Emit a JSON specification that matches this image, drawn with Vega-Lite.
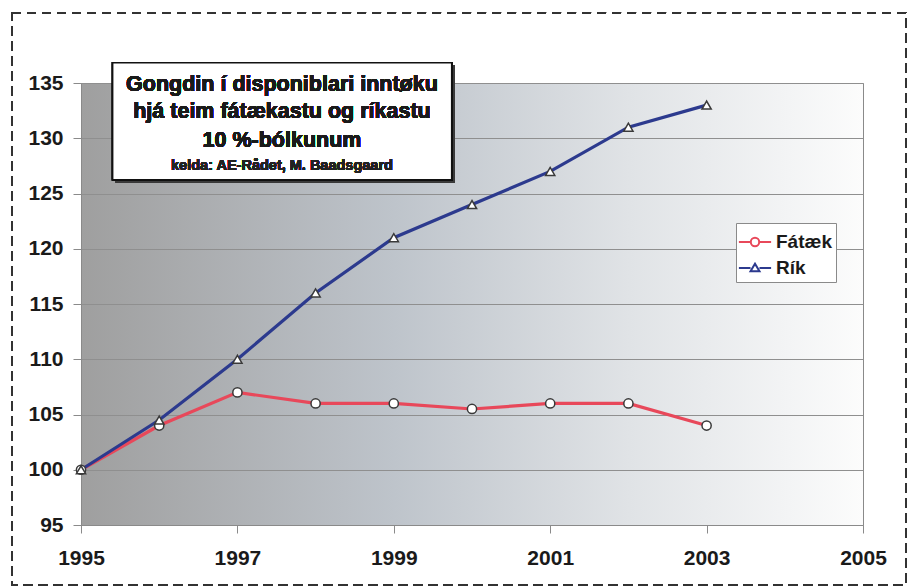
{
  "$schema": "https://vega.github.io/schema/vega-lite/v6.json",
  "width": 782,
  "height": 442,
  "autosize": "none",
  "padding": {"left": 81, "top": 83, "right": 49, "bottom": 63},
  "background": "white",
  "config": {
    "font": "Liberation Sans",
    "view": {
      "stroke": "#8a8a8a",
      "strokeWidth": 1,
      "fill": {
        "gradient": "linear",
        "x1": 0, "y1": 0, "x2": 1, "y2": 0,
        "stops": [
          {"offset": 0, "color": "#9f9f9f"},
          {"offset": 0.4, "color": "#bec4cb"},
          {"offset": 0.7, "color": "#e0e3e6"},
          {"offset": 1, "color": "#fcfcfc"}
        ]
      }
    },
    "axis": {
      "labelFont": "Liberation Sans",
      "labelFontWeight": "bold",
      "labelFontSize": 21,
      "labelColor": "#1a1a1a",
      "domainColor": "#8a8a8a",
      "tickColor": "#8a8a8a",
      "tickSize": 8,
      "title": null
    }
  },
  "data": {
    "values": [
      {"year": 1995, "value": 100, "series": "Fátæk"},
      {"year": 1996, "value": 104, "series": "Fátæk"},
      {"year": 1997, "value": 107, "series": "Fátæk"},
      {"year": 1998, "value": 106, "series": "Fátæk"},
      {"year": 1999, "value": 106, "series": "Fátæk"},
      {"year": 2000, "value": 105.5, "series": "Fátæk"},
      {"year": 2001, "value": 106, "series": "Fátæk"},
      {"year": 2002, "value": 106, "series": "Fátæk"},
      {"year": 2003, "value": 104, "series": "Fátæk"},
      {"year": 1995, "value": 100, "series": "Rík"},
      {"year": 1996, "value": 104.5, "series": "Rík"},
      {"year": 1997, "value": 110, "series": "Rík"},
      {"year": 1998, "value": 116, "series": "Rík"},
      {"year": 1999, "value": 121, "series": "Rík"},
      {"year": 2000, "value": 124, "series": "Rík"},
      {"year": 2001, "value": 127, "series": "Rík"},
      {"year": 2002, "value": 131, "series": "Rík"},
      {"year": 2003, "value": 133, "series": "Rík"}
    ]
  },
  "encoding": {
    "x": {
      "field": "year", "type": "quantitative",
      "scale": {"domain": [1995, 2005], "nice": false, "zero": false},
      "axis": {"values": [1995, 1997, 1999, 2001, 2003, 2005], "format": "d", "grid": false, "labelPadding": 14, "labelFlush": false}
    },
    "y": {
      "field": "value", "type": "quantitative",
      "scale": {"domain": [95, 135], "nice": false, "zero": false},
      "axis": {"values": [95, 100, 105, 110, 115, 120, 125, 130, 135], "grid": true, "gridColor": "#8f8f8f", "gridWidth": 1, "labelPadding": 10}
    }
  },
  "layer": [
    {
      "mark": {"type": "line", "strokeWidth": 3.2},
      "encoding": {
        "color": {
          "field": "series", "type": "nominal",
          "scale": {"domain": ["Fátæk", "Rík"], "range": ["#e8485a", "#2c3a8e"]},
          "legend": null
        }
      }
    },
    {
      "mark": {"type": "point", "filled": false, "fill": "white", "stroke": "#3a3a3a", "strokeWidth": 1.5, "size": 85, "opacity": 1},
      "encoding": {
        "shape": {
          "field": "series", "type": "nominal",
          "scale": {"domain": ["Fátæk", "Rík"], "range": ["circle", "triangle-up"]},
          "legend": null
        }
      }
    },
    {
      "transform": [{"filter": "datum.year < 0"}],
      "mark": {"type": "point", "filled": false, "strokeWidth": 2, "opacity": 1},
      "encoding": {
        "color": {
          "field": "series", "type": "nominal",
          "legend": {
            "title": null,
            "orient": "none",
            "legendX": 655,
            "legendY": 140,
            "fillColor": "white",
            "strokeColor": "#8a8a8a",
            "padding": 4,
            "symbolSize": 784,
            "symbolStrokeWidth": 2,
            "labelFont": "Liberation Sans",
            "labelFontWeight": "bold",
            "labelFontSize": 19,
            "labelColor": "#1a1a1a",
            "labelOffset": 6,
            "rowPadding": 1
          }
        },
        "shape": {
          "field": "series", "type": "nominal",
          "scale": {
            "domain": ["Fátæk", "Rík"],
            "range": [
              "M-1.15,0H-0.3M0.3,0H1.15M-0.3,0A0.3,0.3 0 1,0 0.3,0A0.3,0.3 0 1,0 -0.3,0Z",
              "M-1.15,0H-0.32M0.32,0H1.15M-0.32,0.24L0,-0.3L0.32,0.24Z"
            ]
          },
          "legend": {
            "title": null,
            "orient": "none",
            "legendX": 655,
            "legendY": 140,
            "fillColor": "white",
            "strokeColor": "#8a8a8a",
            "padding": 4,
            "symbolSize": 784,
            "symbolStrokeWidth": 2,
            "labelFont": "Liberation Sans",
            "labelFontWeight": "bold",
            "labelFontSize": 19,
            "labelColor": "#1a1a1a",
            "labelOffset": 6,
            "rowPadding": 1
          }
        }
      }
    },
    {
      "mark": {"type": "rect", "fill": "#3a3a3a", "clip": false},
      "encoding": {
        "x": {"datum": 1995.445, "type": "quantitative"},
        "x2": {"datum": 1999.78},
        "y": {"datum": 136.57, "type": "quantitative"},
        "y2": {"datum": 125.98}
      }
    },
    {
      "mark": {"type": "rect", "fill": "white", "stroke": "#111111", "strokeWidth": 1.5, "clip": false},
      "encoding": {
        "x": {"datum": 1995.405, "type": "quantitative"},
        "x2": {"datum": 1999.74},
        "y": {"datum": 136.84, "type": "quantitative"},
        "y2": {"datum": 126.25}
      }
    },
    {
      "mark": {"type": "text", "text": "Gongdin í disponiblari inntøku", "font": "Liberation Sans", "fontWeight": "bold", "fontSize": 21.5, "color": "#1a1a1a", "align": "center", "baseline": "middle"},
      "encoding": {
        "x": {"datum": 1997.57, "type": "quantitative"},
        "y": {"datum": 134.85, "type": "quantitative"}
      }
    },
    {
      "mark": {"type": "text", "text": "hjá teim fátækastu og ríkastu", "font": "Liberation Sans", "fontWeight": "bold", "fontSize": 21.5, "color": "#1a1a1a", "align": "center", "baseline": "middle"},
      "encoding": {
        "x": {"datum": 1997.57, "type": "quantitative"},
        "y": {"datum": 132.34, "type": "quantitative"}
      }
    },
    {
      "mark": {"type": "text", "text": "10 %-bólkunum", "font": "Liberation Sans", "fontWeight": "bold", "fontSize": 21.5, "color": "#1a1a1a", "align": "center", "baseline": "middle"},
      "encoding": {
        "x": {"datum": 1997.57, "type": "quantitative"},
        "y": {"datum": 129.78, "type": "quantitative"}
      }
    },
    {
      "mark": {"type": "text", "text": "kelda: AE-Rådet, M. Baadsgaard", "font": "Liberation Sans", "fontWeight": "bold", "fontSize": 14.5, "color": "#222222", "align": "center", "baseline": "middle"},
      "encoding": {
        "x": {"datum": 1997.57, "type": "quantitative"},
        "y": {"datum": 127.45, "type": "quantitative"}
      }
    },
    {
      "mark": {"type": "rect", "fill": null, "fillOpacity": 0, "stroke": "#333333", "strokeWidth": 1.5, "strokeDash": [9, 6], "clip": false},
      "encoding": {
        "x": {"datum": 1994.118, "type": "quantitative"},
        "x2": {"datum": 2005.55},
        "y": {"datum": 141.36, "type": "quantitative"},
        "y2": {"datum": 89.57}
      }
    }
  ],
  "resolve": {
    "scale": {"shape": "independent"},
    "legend": {"color": "independent", "shape": "independent"}
  }
}
